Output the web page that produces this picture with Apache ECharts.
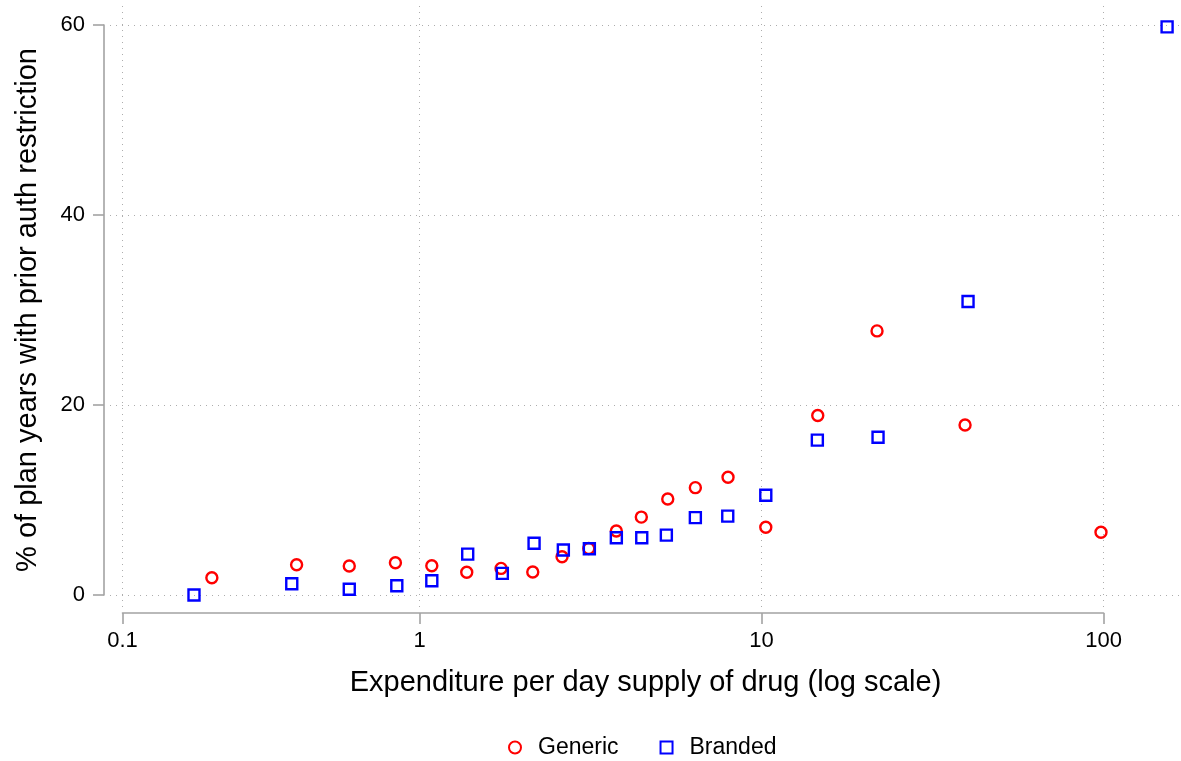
<!DOCTYPE html>
<html>
<head>
<meta charset="utf-8">
<script src="https://cdn.jsdelivr.net/npm/echarts@6/dist/echarts.min.js"></script>
<style>
html,body{margin:0;padding:0;background:#fff;}
#chart{width:1181px;height:761px;}
</style>
</head>
<body>
<div id="chart"></div>
<script>
// Expenditure per day supply (x) and % of plan years with prior auth restriction (y)
const genericX = [0.247, 0.437, 0.623, 0.850, 1.086, 1.374, 1.731, 2.143, 2.610, 3.125, 3.762, 4.451, 5.318, 6.404, 7.980, 10.29, 14.60, 21.76, 39.36, 98.3];
const genericY = [1.82, 3.19, 3.05, 3.40, 3.08, 2.39, 2.80, 2.42, 4.03, 4.90, 6.74, 8.20, 10.1, 11.3, 12.4, 7.13, 18.9, 27.8, 17.9, 6.6];
const brandedX = [0.219, 0.423, 0.623, 0.858, 1.086, 1.383, 1.746, 2.162, 2.633, 3.137, 3.762, 4.464, 5.268, 6.404, 7.965, 10.29, 14.56, 21.91, 40.16, 153.4];
const brandedY = [0.0, 1.19, 0.60, 0.98, 1.50, 4.30, 2.28, 5.45, 4.74, 4.87, 6.03, 6.03, 6.30, 8.14, 8.30, 10.5, 16.3, 16.6, 30.9, 59.8];
const yTickValues = [0, 20, 40, 60];
const xTickLabels = ['0.1', '1', '10', '100'];
const seriesNames = ['Generic', 'Branded'];
const xTitle = 'Expenditure per day supply of drug (log scale)';
const yTitle = '% of plan years with prior auth restriction';

const FONT = '"Liberation Sans", Arial, Helvetica, sans-serif';
const AXIS_GRAY = '#a3a3a3';
const GRID_GRAY = '#adadad';
const X_MIN = Math.exp(-2);      // position of the "0.1" tick in the original
const X_AXIS_MAX = 100;
const X_PLOT_MAX = 168.46;
const Y_PLOT_MIN = -1.263, Y_PLOT_MAX = 62.0;

function pairs(xs, ys){ return xs.map((x,i)=>[x, ys[i]]); }
function xLabel(v){
  const lv = Math.log10(v);
  const idx = Math.round(lv + 1);
  return xTickLabels[Math.max(0, Math.min(3, idx))];
}

const chart = echarts.init(document.getElementById('chart'), null, {renderer:'canvas'});
chart.setOption({
  animation:false,
  backgroundColor:'#fff',
  textStyle:{fontFamily:FONT},
  grid:[
    {left:122.5, width:1058.5, top:6, height:601, outerBoundsMode:'none'},   // plot (data, vertical gridlines)
    {left:110, width:1071, top:25, height:570, outerBoundsMode:'none'},      // y axis + horizontal gridlines
    {left:122.5, width:981.06, top:612, height:1, outerBoundsMode:'none'}    // x axis line
  ],
  xAxis:[
    {type:'log', gridIndex:0, min:X_MIN, max:X_PLOT_MAX, logBase:10,
     axisLine:{show:false}, axisTick:{show:false}, axisLabel:{show:false},
     splitLine:{show:true, showMaxLine:false, lineStyle:{color:GRID_GRAY, type:[1,5], width:1}}},
    {type:'value', gridIndex:1, min:0, max:1, position:'bottom',
     axisLine:{show:false, onZero:false}, axisTick:{show:false}, axisLabel:{show:false}, splitLine:{show:false},
     name:xTitle, nameLocation:'middle', nameGap:73,
     nameTextStyle:{fontSize:29, color:'#000', fontFamily:FONT}},
    {type:'log', gridIndex:2, min:X_MIN, max:X_AXIS_MAX, logBase:10, position:'bottom',
     axisLine:{show:true, onZero:false, lineStyle:{color:AXIS_GRAY, width:1.6}},
     axisTick:{show:true, length:11, lineStyle:{color:AXIS_GRAY, width:1.6}},
     axisLabel:{show:true, margin:17, fontSize:22, color:'#000', fontFamily:FONT, formatter:xLabel,
                showMinLabel:true, showMaxLabel:true},
     splitLine:{show:false}}
  ],
  yAxis:[
    {type:'value', gridIndex:0, min:Y_PLOT_MIN, max:Y_PLOT_MAX,
     axisLine:{show:false}, axisTick:{show:false}, axisLabel:{show:false}, splitLine:{show:false}},
    {type:'value', gridIndex:1, min:yTickValues[0], max:yTickValues[yTickValues.length-1], interval:20,
     position:'left', offset:6,
     axisLine:{show:true, onZero:false, lineStyle:{color:AXIS_GRAY, width:1.6}},
     axisTick:{show:true, length:11, lineStyle:{color:AXIS_GRAY, width:1.6}},
     axisLabel:{show:true, margin:19, fontSize:22, color:'#000', fontFamily:FONT},
     splitLine:{show:true, lineStyle:{color:GRID_GRAY, type:[1,5], width:1}},
     name:yTitle, nameLocation:'middle', nameGap:62,
     nameTextStyle:{fontSize:29, color:'#000', fontFamily:FONT}},
    {type:'value', gridIndex:2, min:0, max:1, show:false}
  ],
  legend:{
    data:seriesNames, left:503, top:731, itemWidth:12, itemHeight:12, itemGap:41,
    textStyle:{fontSize:23, color:'#000', fontFamily:FONT, padding:[0,0,0,12]}
  },
  series:[
    {name:seriesNames[0], type:'scatter', xAxisIndex:0, yAxisIndex:0, data:pairs(genericX, genericY),
     symbol:'circle', symbolSize:11, clip:false,
     itemStyle:{color:'rgba(255,255,255,0)', borderColor:'#ff0000', borderWidth:2.4, opacity:1}},
    {name:seriesNames[1], type:'scatter', xAxisIndex:0, yAxisIndex:0, data:pairs(brandedX, brandedY),
     symbol:'rect', symbolSize:11, clip:false,
     itemStyle:{color:'rgba(255,255,255,0)', borderColor:'#0000ff', borderWidth:2.4, opacity:1}}
  ]
});
</script>
</body>
</html>
